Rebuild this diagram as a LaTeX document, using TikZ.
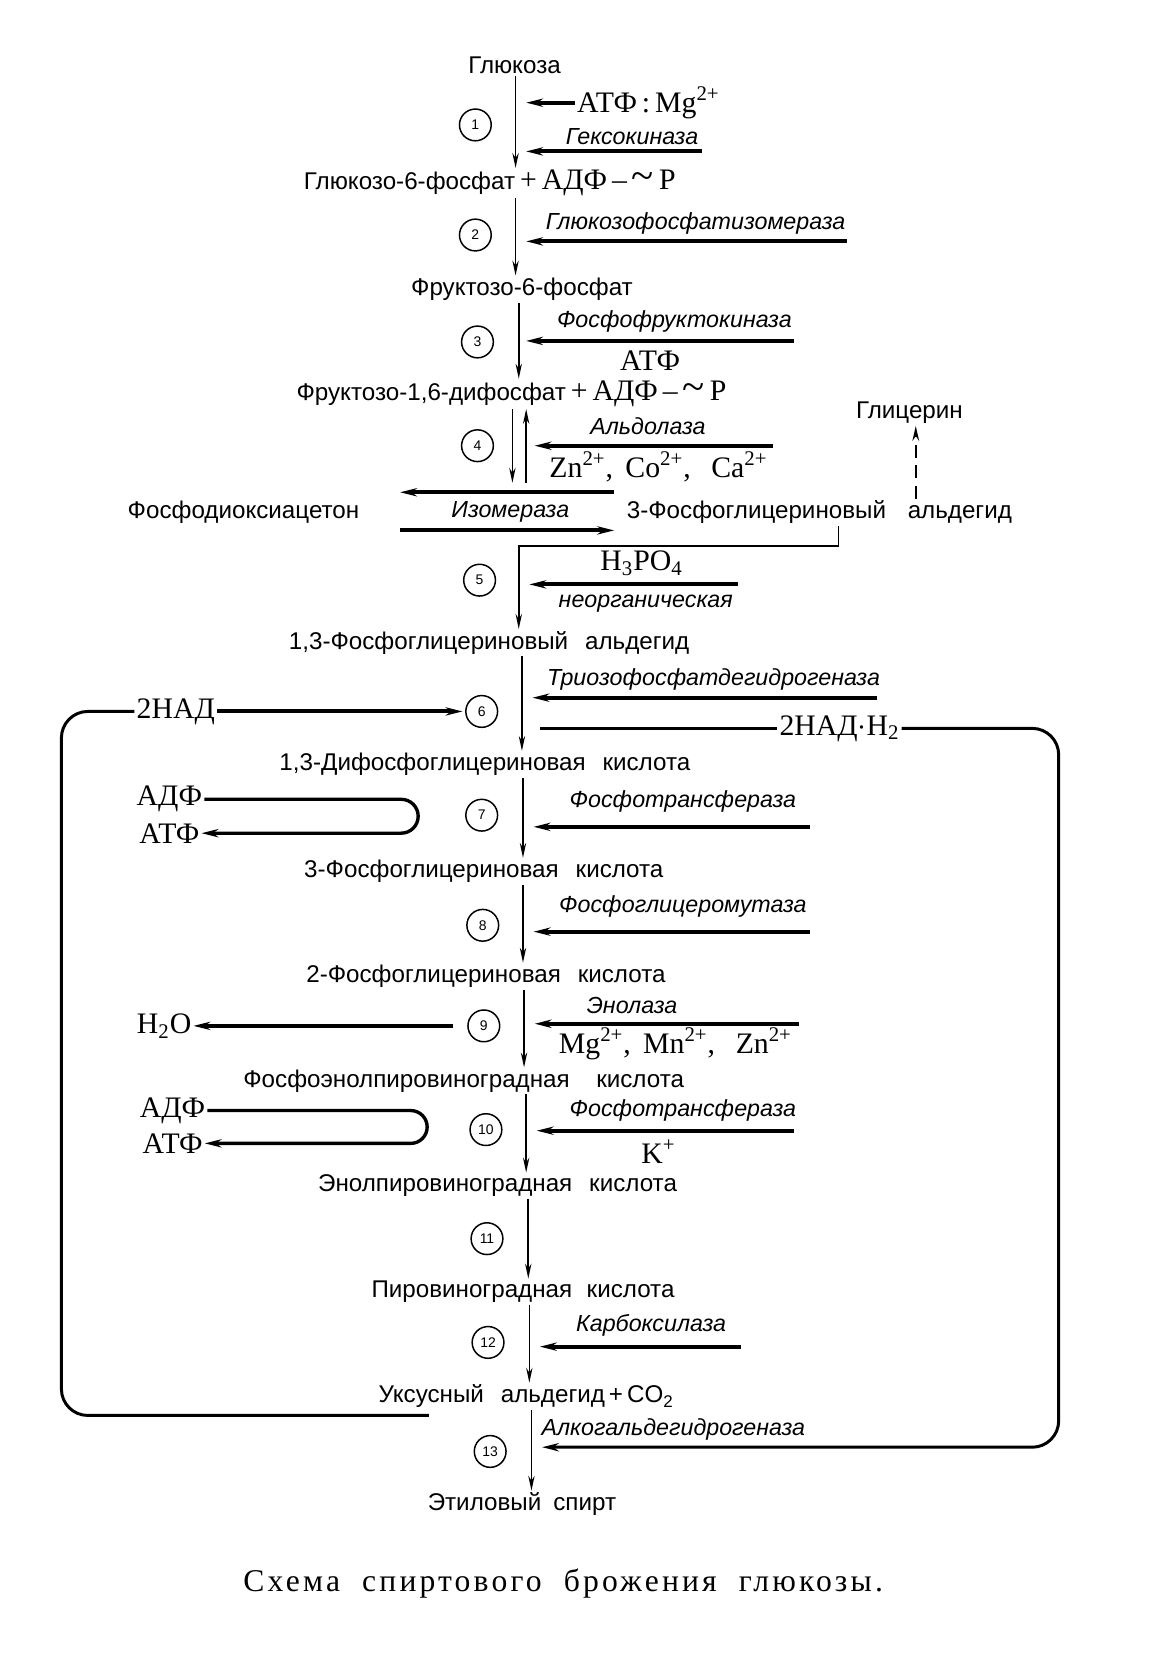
\documentclass[tikz,border=0pt]{standalone}
\usepackage{fontspec}
\setmainfont{Liberation Serif}
\newfontfamily\subf{Liberation Sans}
\newfontfamily\capf[LetterSpace=10]{Liberation Serif}
\usetikzlibrary{arrows.meta}
\tikzset{
  sub/.style={font=\subf\fontsize{13}{15}\selectfont, inner sep=1pt},
  enz/.style={font=\subf\itshape\fontsize{12.5}{14}\selectfont, inner sep=1pt},
  chem/.style={font=\fontsize{16}{18}\selectfont, inner sep=1pt},
  num/.style={circle, draw, line width=0.8pt, minimum size=0.6cm, inner sep=0pt, font=\subf\fontsize{7.5}{8}\selectfont},
  main/.style={line width=0.9pt, -{Stealth[length=8pt,width=3.4pt]}},
  eline/.style={line width=2.1pt, -{Stealth[length=9pt,width=4.4pt]}},
  loopline/.style={line width=1.6pt, rounded corners=0.5cm},
}
\newcommand{\adpp}{{\fontsize{16}{18}\selectfont\rmfamily\,+\,АДФ\,–\,{\fontsize{22}{18}\selectfont\char"7E}\,P}}
\begin{document}
\begin{tikzpicture}[x=0.02cm,y=-0.02cm]
\useasboundingbox[fill=white] (0,0) rectangle (1086,1568);

% axis coordinates
\coordinate (ax1) at (487,118);
\coordinate (ax2) at (487,222);
\coordinate (ax3) at (490,323);
\coordinate (ax5) at (490,548);
\coordinate (ax6) at (493,670);
\coordinate (ax7) at (494,770);
\coordinate (ax8) at (494,874);
\coordinate (ax9) at (495,969);
\coordinate (ax10) at (497,1067);
\coordinate (ax11) at (499,1170);
\coordinate (ax12) at (500,1268);
\coordinate (ax13) at (502,1371);

% substrates
\node[sub] (glc) at (486,62) {Глюкоза};
\node[sub,anchor=west] (g6p) at (285,173) {Глюкозо-6-фосфат\adpp};
\node[sub] (f6p) at (493,273) {Фруктозо-6-фосфат};
\node[sub,anchor=west] (f16) at (278,372) {Фруктозо-1,6-дифосфат\adpp};
\node[sub] (gly) at (859,390) {Глицерин};
\node[sub] (dhap) at (230,484) {Фосфодиоксиацетон};
\node[sub,anchor=west] (gap) at (590,484) {3-Фосфоглицериновый\hspace{0.9em}альдегид};
\node[sub] (bpga) at (462,607) {1,3-Фосфоглицериновый\hspace{0.7em}альдегид};
\node[sub] (dpg) at (458,722) {1,3-Дифосфоглицериновая\hspace{0.7em}кислота};
\node[sub] (pg3) at (457,823) {3-Фосфоглицериновая\hspace{0.7em}кислота};
\node[sub] (pg2) at (459,922) {2-Фосфоглицериновая\hspace{0.7em}кислота};
\node[sub] (pep) at (438,1021) {Фосфоэнолпировиноградная\hspace{1.1em}кислота};
\node[sub] (epv) at (470,1120) {Энолпировиноградная\hspace{0.7em}кислота};
\node[sub] (pyr) at (494,1220) {Пировиноградная\hspace{0.6em}кислота};
\node[sub] (acet) at (497,1319) {Уксусный\hspace{0.7em}альдегид\,+\,CO\textsubscript{2}};
\node[sub] (eth) at (493,1421) {Этиловый\hspace{0.5em}спирт};

% circles
\node[num] (c1) at (449,118) {1};
\node[num] (c2) at (449,222) {2};
\node[num] (c3) at (451,323) {3};
\node[num] (c4) at (451,421) {4};
\node[num] (c5) at (453,548) {5};
\node[num] (c6) at (455,672) {6};
\node[num] (c7) at (455,770) {7};
\node[num] (c8) at (456,874) {8};
\node[num] (c9) at (457,969) {9};
\node[num] (c10) at (459,1067) {10};
\node[num] (c11) at (460,1170) {11};
\node[num] (c12) at (461,1268) {12};
\node[num] (c13) at (463,1371) {13};

% main arrows
\draw[main] (glc.south -| ax1) -- (g6p.north -| ax1);
\draw[main] (g6p.south -| ax2) -- (f6p.north -| ax2);
\draw[main] (f6p.south -| ax3) -- (f16.north -| ax3);
\coordinate (s4a) at (484,456);
\coordinate (s4b) at (497,456);
\draw[main] (f16.south -| s4a) -- (s4a);
\draw[main] (s4b) -- (f16.south -| s4b);
\coordinate (k5) at (792,516);
\draw[main] (gap.south -| k5) -- (k5) -- (k5 -| ax5) -- (bpga.north -| ax5);
\draw[main] (bpga.south -| ax6) -- (dpg.north -| ax6);
\draw[main] (dpg.south -| ax7) -- (pg3.north -| ax7);
\draw[main] (pg3.south -| ax8) -- (pg2.north -| ax8);
\draw[main] (pg2.south -| ax9) -- (pep.north -| ax9);
\draw[main] (pep.south -| ax10) -- (epv.north -| ax10);
\draw[main] (epv.south -| ax11) -- (pyr.north -| ax11);
\draw[main] (pyr.south -| ax12) -- (acet.north -| ax12);
\draw[main] (acet.south -| ax13) -- (eth.north -| ax13);

% step 1
\node[chem,anchor=west] (atpmg) at (543,97) {АТФ\,:\,Mg\textsuperscript{2+}};
\draw[eline, shorten >=0.2cm] (atpmg.west) -- (atpmg.west -| ax1);
\node[enz] (enz1) at (597,129) {Гексокиназа};
\coordinate (e1) at (663,143);
\draw[eline, shorten >=0.2cm] (e1) -- (e1 -| ax1);

% step 2
\node[enz] (enz2) at (657,211) {Глюкозофосфатизомераза};
\coordinate (e2) at (800,228);
\draw[eline, shorten >=0.2cm] (e2) -- (e2 -| ax2);

% step 3
\node[enz] (enz3) at (637,304) {Фосфофруктокиназа};
\coordinate (e3) at (750,322);
\draw[eline, shorten >=0.14cm] (e3) -- (e3 -| ax3);
\node[chem] (atp3) at (614,341) {АТФ};

% step 4
\node[enz] (enz4) at (612,403) {Альдолаза};
\coordinate (e4) at (730,421);
\draw[eline, shorten >=0.16cm] (e4) -- (e4 -| s4b);
\node[chem] (ion4) at (622,441) {Zn\textsuperscript{2+},\, Co\textsuperscript{2+},\;\, Ca\textsuperscript{2+}};

% isomerase
\coordinate (iz1) at (580,465);
\coordinate (iz2) at (378,465);
\coordinate (iz3) at (378,501);
\coordinate (iz4) at (580,501);
\draw[eline] (iz1) -- (iz2);
\draw[eline] (iz3) -- (iz4);
\node[enz] (enzi) at (482,484) {Изомераза};

% glycerol
\coordinate (dsh) at (865,440);
\draw[line width=1.2pt, dashed, dash pattern=on 7pt off 4pt, -{Stealth[length=8pt,width=3.6pt]}] (gap.north -| dsh) -- (gly.south -| dsh);

% step 5
\node[chem] (h3po4) at (606,532) {H\textsubscript{3}PO\textsubscript{4}};
\coordinate (e5) at (697,552);
\draw[eline, shorten >=0.2cm] (e5) -- (e5 -| ax5);
\node[enz] (enz5) at (610,570) {неорганическая};

% step 6
\node[enz] (enz6) at (674,642) {Триозофосфатдегидрогеназа};
\coordinate (e6) at (828,659);
\draw[eline, shorten >=0.2cm] (e6) -- (e6 -| ax6);
\node[chem] (nad) at (166,672) {2НАД};
\draw[eline, shorten >=0.05cm] (nad.east) -- (c6.west);
\node[chem] (nadh) at (793,688) {2НАД$\cdot$H\textsubscript{2}};
\draw[line width=1.6pt, shorten >=0.34cm] (nadh.west) -- (nadh.west -| ax6);

% loops
\coordinate (rl1) at (1000,688);
\coordinate (rl2) at (1000,1367);
\draw[loopline, -{Stealth[length=9pt,width=4.4pt]}, shorten >=0.2cm] (nadh.east) -- (rl1) -- (rl2) -- (rl2 -| ax13);
\node[enz] (enz13) at (636,1350) {Алкогальдегидрогеназа};
\coordinate (ll1) at (58,672);
\coordinate (ll2) at (58,1337);
\coordinate (ll3) at (405,1337);
\draw[loopline] (nad.west) -- (ll1) -- (ll2) -- (ll3);

% step 7
\node[chem] (adp7) at (160,755) {АДФ};
\node[chem] (atp7) at (160,787) {АТФ};
\coordinate (u7) at (379,755);
\draw[line width=1.8pt, -{Stealth[length=9pt,width=4.4pt]}] (adp7.east) -- (u7) arc[start angle=90,end angle=-90,radius=0.32cm] -- (atp7.east);
\node[enz] (enz7) at (645,757) {Фосфотрансфераза};
\coordinate (e7) at (765,781);
\draw[eline, shorten >=0.2cm] (e7) -- (e7 -| ax7);

% step 8
\node[enz] (enz8) at (645,856) {Фосфоглицеромутаза};
\coordinate (e8) at (765,880);
\draw[eline, shorten >=0.2cm] (e8) -- (e8 -| ax8);

% step 9
\node[enz] (enz9) at (597,950) {Энолаза};
\coordinate (e9) at (755,967);
\draw[eline, shorten >=0.2cm] (e9) -- (e9 -| ax9);
\node[chem] (ion9) at (638,986) {Mg\textsuperscript{2+},\, Mn\textsuperscript{2+},\;\, Zn\textsuperscript{2+}};
\node[chem] (h2o) at (155,969) {H\textsubscript{2}O};
\draw[eline, shorten <=0.26cm] (c9.west) -- (h2o.east);

% step 10
\node[chem] (adp10) at (163,1049) {АДФ};
\node[chem] (atp10) at (163,1080) {АТФ};
\coordinate (u10) at (388,1049);
\draw[line width=1.8pt, -{Stealth[length=9pt,width=4.4pt]}] (adp10.east) -- (u10) arc[start angle=90,end angle=-90,radius=0.31cm] -- (atp10.east);
\node[enz] (enz10) at (645,1049) {Фосфотрансфераза};
\coordinate (e10) at (750,1068);
\draw[eline, shorten >=0.2cm] (e10) -- (e10 -| ax10);
\node[chem] (kion) at (622,1088) {K\textsuperscript{+}};

% step 12
\node[enz] (enz12) at (615,1252) {Карбоксилаза};
\coordinate (e12) at (700,1272);
\draw[eline, shorten >=0.2cm] (e12) -- (e12 -| ax12);

% caption
\node[font=\capf\fontsize{17}{20}\selectfont] (cap) at (532,1496) {Схема\ \ спиртового\ \ брожения\ \ глюкозы.};
\end{tikzpicture}
\end{document}
